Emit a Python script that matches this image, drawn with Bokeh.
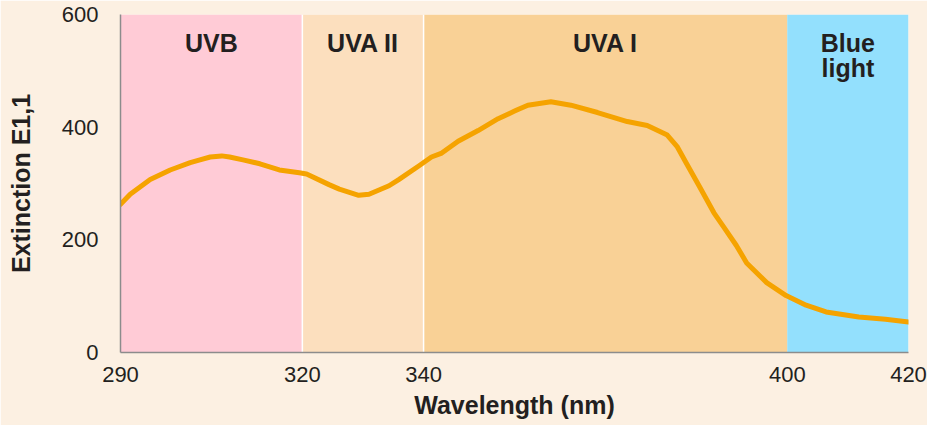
from bokeh.plotting import figure
from bokeh.models import Range1d, FixedTicker, ColumnDataSource
from bokeh.core.properties import value
from bokeh.embed import file_html
from bokeh.resources import INLINE

# ---- data ----
wavelength = [290.0, 291.6, 294.9, 298.2, 301.5, 303.1, 304.8, 306.7, 308.0, 310.2,
              313.0, 316.2, 319.5, 320.7, 324.4, 326.1, 329.3, 331.0, 334.3, 335.9,
              339.2, 341.3, 343.0, 345.7, 349.0, 352.3, 355.1, 357.2, 361.0, 364.3,
              368.7, 373.6, 376.9, 380.2, 381.8, 383.4, 385.6, 387.9, 389.5, 391.6,
              393.3, 396.6, 399.8, 403.1, 406.4, 411.8, 416.2, 420.0]
extinction = [263, 281, 307, 324, 337, 342, 347, 349, 347, 342,
              335, 324, 319, 317, 298, 290, 279, 281, 296, 307,
              331, 347, 354, 375, 394, 415, 429, 439, 445, 439,
              426, 410, 403, 386, 366, 335, 293, 248, 223, 190,
              159, 124, 101, 84, 72, 63, 59, 54]

band_names = ["UVB", "UVA II", "UVA I", "Blue\nlight"]
band_start = [290, 320, 340, 400]
band_end = [320, 340, 400, 420]
band_colors = ["#FFCBD6", "#FCDFBE", "#F9D196", "#93E0FD"]
separators = [320, 340]

x_ticks = [290, 320, 340, 400, 420]
y_ticks = [0, 200, 400, 600]

BG = "#FCF0E2"
TXT = "#231F20"
FONT = "Liberation Sans"

p = figure(width=927, height=425, output_backend="svg", toolbar_location=None,
           x_range=Range1d(290, 420), y_range=Range1d(0, 600),
           min_border_left=120, min_border_right=19, min_border_top=14,
           min_border_bottom=73)
p.background_fill_color = BG
p.border_fill_color = BG
p.outline_line_color = None
p.grid.visible = False

bands = ColumnDataSource(dict(left=band_start, right=band_end, color=band_colors,
                              bottom=[0] * len(band_start), top=[600] * len(band_start),
                              name=band_names,
                              cx=[(a + b) / 2 for a, b in zip(band_start, band_end)],
                              ty=[575] * len(band_start)))
p.quad(left="left", right="right", bottom="bottom", top="top", fill_color="color",
       line_color=None, source=bands)
p.segment(x0=separators, x1=separators, y0=[0] * len(separators), y1=[600] * len(separators),
          line_color="white", line_width=1.5)

p.line(wavelength, extinction, line_color="#F5A300", line_width=5,
       line_join="round", line_cap="round")

p.text(x="cx", y="ty", text="name", source=bands, text_align="center",
       text_baseline="top", text_font=value(FONT), text_font_style="bold",
       text_font_size="25px", text_color=TXT, text_line_height=0.92)

for ax in (p.xaxis[0], p.yaxis[0]):
    ax.axis_line_color = "#8C8C8C"
    ax.axis_line_width = 1.5
    ax.major_tick_line_color = None
    ax.minor_tick_line_color = None
    ax.major_tick_out = 0
    ax.major_tick_in = 0
    ax.major_label_text_font = FONT
    ax.major_label_text_font_size = "22px"
    ax.major_label_text_color = TXT
    ax.axis_label_text_font = FONT
    ax.axis_label_text_font_size = "25px"
    ax.axis_label_text_font_style = "bold"
    ax.axis_label_text_color = TXT

p.xaxis.ticker = FixedTicker(ticks=x_ticks)
p.yaxis.ticker = FixedTicker(ticks=y_ticks)
p.xaxis.axis_label = "Wavelength (nm)"
p.yaxis.axis_label = "Extinction E1,1"
p.xaxis.major_label_standoff = 14
p.xaxis.axis_label_standoff = 6
p.yaxis.major_label_standoff = 22
p.yaxis.axis_label_standoff = 24

open("out.html", "w").write(file_html(p, INLINE))
